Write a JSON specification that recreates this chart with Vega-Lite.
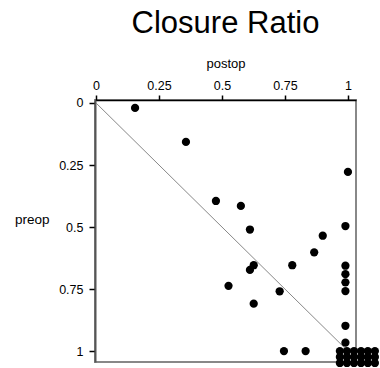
{
  "$schema": "https://vega.github.io/schema/vega-lite/v6.json",
  "autosize": {"type": "none"},
  "padding": {"left": 95, "top": 100, "right": 24, "bottom": 6},
  "width": 261,
  "height": 262,
  "background": "white",
  "config": {
    "view": {"stroke": "#888", "strokeWidth": 2},
    "font": "Liberation Sans"
  },
  "title": {
    "text": "Closure Ratio",
    "fontSize": 31,
    "font": "Liberation Sans",
    "fontWeight": "normal",
    "color": "black",
    "anchor": "middle",
    "offset": 17
  },
  "datasets": {
    "pts": [
      {"postop": 0.155, "preop": 0.02},
      {"postop": 0.357, "preop": 0.157},
      {"postop": 1.0, "preop": 0.278},
      {"postop": 0.476, "preop": 0.395},
      {"postop": 0.575, "preop": 0.415},
      {"postop": 0.611, "preop": 0.51},
      {"postop": 0.99, "preop": 0.496},
      {"postop": 0.9, "preop": 0.535},
      {"postop": 0.866, "preop": 0.602},
      {"postop": 0.779, "preop": 0.654},
      {"postop": 0.626, "preop": 0.654},
      {"postop": 0.611, "preop": 0.673},
      {"postop": 0.99, "preop": 0.656},
      {"postop": 0.99, "preop": 0.69},
      {"postop": 0.99, "preop": 0.723},
      {"postop": 0.99, "preop": 0.758},
      {"postop": 0.526, "preop": 0.737},
      {"postop": 0.729, "preop": 0.759},
      {"postop": 0.626, "preop": 0.809},
      {"postop": 0.99, "preop": 0.898},
      {"postop": 0.99, "preop": 0.966},
      {"postop": 0.746, "preop": 1.0},
      {"postop": 0.832, "preop": 1.0},
      {"postop": 0.968, "preop": 1.0},
      {"postop": 0.996, "preop": 1.0},
      {"postop": 1.024, "preop": 1.0},
      {"postop": 1.052, "preop": 1.0},
      {"postop": 1.079, "preop": 1.0},
      {"postop": 1.107, "preop": 1.0},
      {"postop": 0.968, "preop": 1.024},
      {"postop": 0.996, "preop": 1.024},
      {"postop": 1.024, "preop": 1.024},
      {"postop": 1.052, "preop": 1.024},
      {"postop": 1.079, "preop": 1.024},
      {"postop": 1.107, "preop": 1.024},
      {"postop": 0.968, "preop": 1.048},
      {"postop": 0.996, "preop": 1.048},
      {"postop": 1.024, "preop": 1.048},
      {"postop": 1.052, "preop": 1.048},
      {"postop": 1.079, "preop": 1.048},
      {"postop": 1.107, "preop": 1.048}
    ],
    "diag": [
      {"x": 0, "y": 0, "x2": 1, "y2": 1}
    ]
  },
  "layer": [
    {
      "data": {"name": "diag"},
      "mark": {"type": "rule", "color": "#888", "strokeWidth": 1},
      "encoding": {
        "x": {"field": "x", "type": "quantitative", "scale": {"domain": [-0.004, 1.032], "nice": false, "zero": false}},
        "y": {"field": "y", "type": "quantitative", "scale": {"domain": [-0.012, 1.044], "nice": false, "zero": false, "reverse": true}},
        "x2": {"field": "x2"},
        "y2": {"field": "y2"}
      }
    },
    {
      "data": {"name": "pts"},
      "mark": {"type": "point", "filled": true, "color": "black", "opacity": 1, "size": 68},
      "encoding": {
        "x": {
          "field": "postop", "type": "quantitative",
          "axis": {
            "orient": "top",
            "values": [0, 0.25, 0.5, 0.75, 1],
            "labelExpr": "'' + datum.value",
            "grid": false,
            "domainColor": "black",
            "domainWidth": 1.5,
            "tickColor": "black",
            "tickWidth": 1.5,
            "tickSize": 5,
            "labelPadding": 3,
            "labelFontSize": 12.5,
            "labelFont": "Liberation Sans",
            "labelColor": "black",
            "labelFlush": false,
            "labelOverlap": false,
            "title": "postop",
            "titleFontSize": 13,
            "titleFont": "Liberation Sans",
            "titleFontWeight": "normal",
            "titleColor": "black",
            "titlePadding": 9
          }
        },
        "y": {
          "field": "preop", "type": "quantitative",
          "axis": {
            "orient": "left",
            "values": [0, 0.25, 0.5, 0.75, 1],
            "labelExpr": "'' + datum.value",
            "grid": false,
            "domainColor": "#555",
            "domainWidth": 2,
            "tickColor": "black",
            "tickWidth": 1.5,
            "tickSize": 6,
            "labelPadding": 6,
            "labelFontSize": 12.5,
            "labelFont": "Liberation Sans",
            "labelColor": "black",
            "labelFlush": false,
            "labelOverlap": false,
            "title": "preop",
            "titleAngle": 0,
            "titleAlign": "right",
            "titleBaseline": "middle",
            "titleX": -46,
            "titleY": 119,
            "titleFontSize": 13.5,
            "titleFont": "Liberation Sans",
            "titleFontWeight": "normal",
            "titleColor": "black"
          }
        }
      }
    }
  ]
}
